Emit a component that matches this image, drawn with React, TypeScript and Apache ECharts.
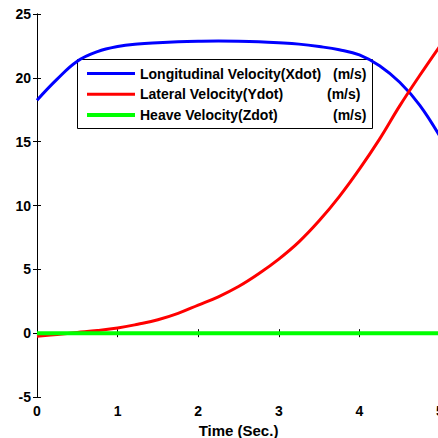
import React, { useEffect, useRef } from "react";
import * as echarts from "echarts";

const timeSec = [0, 0.25, 0.5, 0.75, 1.0, 1.25, 1.5, 1.75, 2.0, 2.25, 2.5, 2.75, 3.0, 3.25, 3.5, 3.75, 4.0, 4.25, 4.5, 4.75, 5.0];
const xdot = [18.25, 19.9, 21.3, 22.05, 22.45, 22.65, 22.75, 22.82, 22.86, 22.88, 22.87, 22.83, 22.75, 22.64, 22.45, 22.2, 21.8, 20.95, 19.65, 17.85, 15.4];
const ydot = [-0.25, -0.1, 0.05, 0.2, 0.4, 0.7, 1.05, 1.55, 2.2, 2.85, 3.65, 4.65, 5.8, 7.15, 8.8, 10.7, 12.85, 15.2, 17.8, 20.2, 22.5];
const zdot = [0, 0, 0, 0, 0, 0, 0, 0, 0, 0, 0, 0, 0, 0, 0, 0, 0, 0, 0, 0, 0];

const seriesNames = ["Longitudinal Velocity(Xdot)", "Lateral Velocity(Ydot)", "Heave Velocity(Zdot)"];
const seriesUnits = ["(m/s)", "(m/s)", "(m/s)"];
const seriesColors = ["#0000ff", "#ff0000", "#00ff00"];
const xTitle = "Time (Sec.)";

const FONT = "'Liberation Sans', Arial, Helvetica, sans-serif";

export default function App() {
  const ref = useRef<HTMLDivElement>(null);
  useEffect(() => {
    if (!ref.current) return;
    const chart = echarts.init(ref.current, undefined, { renderer: "svg" });
    const values = [xdot, ydot, zdot];
    const widths = [3, 3, 4];
    const axisCommon = {
      axisLine: { show: true, lineStyle: { color: "#000", width: 1 } },
      axisTick: { show: true, inside: true, length: 4, lineStyle: { color: "#000" } },
      splitLine: { show: false },
    };
    const labelStyle = { color: "#000", fontFamily: FONT, fontWeight: "bold", fontSize: 14 };

    const rowY = [73.5, 94.3, 115];
    const unitX = [333, 327, 333];
    const legendChildren: any[] = [
      {
        type: "rect",
        shape: { x: 77.5, y: 59.5, width: 295, height: 69 },
        style: { fill: "#fff", stroke: "#000", lineWidth: 1 },
      },
    ];
    seriesNames.forEach((n, i) => {
      legendChildren.push({
        type: "line",
        shape: { x1: 87, y1: rowY[i], x2: 135, y2: rowY[i] },
        style: { stroke: seriesColors[i], lineWidth: widths[i] },
      });
      legendChildren.push({
        type: "text",
        x: 140,
        y: rowY[i],
        style: { text: n, fill: "#000", font: `bold 14px ${FONT}`, verticalAlign: "middle", align: "left" },
      });
      legendChildren.push({
        type: "text",
        x: unitX[i],
        y: rowY[i],
        style: { text: seriesUnits[i], fill: "#000", font: `bold 14px ${FONT}`, verticalAlign: "middle", align: "left" },
      });
    });

    chart.setOption({
      animation: false,
      backgroundColor: "#fff",
      grid: { left: 37, top: 14, width: 403, height: 383, containLabel: false, outerBoundsMode: "none" },
      xAxis: [
        {
          type: "value",
          min: 0,
          max: 5,
          interval: 1,
          position: "bottom",
          ...axisCommon,
          axisLabel: { ...labelStyle, margin: 7 },
          name: xTitle,
          nameLocation: "middle",
          nameGap: 22,
          nameTextStyle: { color: "#000", fontFamily: FONT, fontWeight: "bold", fontSize: 15 },
        },
        {
          type: "value",
          min: 0,
          max: 5,
          interval: 1,
          position: "top",
          ...axisCommon,
          axisLabel: { show: false },
        },
      ],
      yAxis: [
        {
          type: "value",
          min: -5,
          max: 25,
          interval: 5,
          position: "left",
          ...axisCommon,
          axisLabel: { ...labelStyle, margin: 6 },
        },
        {
          type: "value",
          min: -5,
          max: 25,
          interval: 5,
          position: "right",
          ...axisCommon,
          axisLabel: { show: false },
        },
      ],
      series: seriesNames.map((n, i) => ({
        name: n,
        type: "line",
        xAxisIndex: 0,
        yAxisIndex: 0,
        data: timeSec.map((t, j) => [t, values[i][j]]),
        smooth: 0.4,
        showSymbol: false,
        lineStyle: { color: seriesColors[i], width: widths[i] },
        itemStyle: { color: seriesColors[i] },
      })),
      graphic: [{ type: "group", z: 100, children: legendChildren }],
    });
    return () => chart.dispose();
  }, []);
  return <div ref={ref} style={{ position: "fixed", left: 0, top: 0, width: 438, height: 438 }} />;
}
